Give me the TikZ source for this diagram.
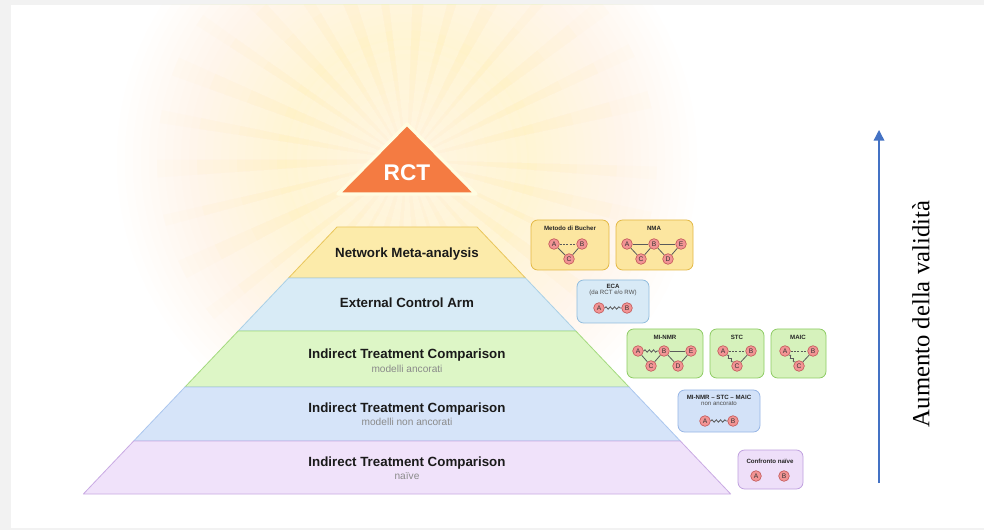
\documentclass[tikz,border=0pt]{standalone}
\usepackage{fontspec}
\setmainfont{Liberation Serif}
\setsansfont{Liberation Sans}
\usetikzlibrary{decorations.pathmorphing,arrows.meta}

\definecolor{frameC}{HTML}{F2F2F2}
\definecolor{glowA}{HTML}{FFF59C}
\definecolor{rayC}{HTML}{FFF28E}
\definecolor{rctC}{HTML}{F47B42}
\definecolor{nmaF}{HTML}{FCEBAA}
\definecolor{nmaB}{HTML}{E9C65B}
\definecolor{ecaF}{HTML}{D8EBF6}
\definecolor{ecaB}{HTML}{A9D0E6}
\definecolor{itaF}{HTML}{DDF6C6}
\definecolor{itaB}{HTML}{A3DA7E}
\definecolor{itnF}{HTML}{D6E4F9}
\definecolor{itnB}{HTML}{ABC6EE}
\definecolor{naiF}{HTML}{F0E2FA}
\definecolor{naiB}{HTML}{C9AAE3}
\definecolor{bucF}{HTML}{FCE6A0}
\definecolor{bucB}{HTML}{E3B844}
\definecolor{ecbF}{HTML}{D8EAF6}
\definecolor{ecbB}{HTML}{90BCDD}
\definecolor{grnF}{HTML}{D6F2BC}
\definecolor{grnB}{HTML}{8DCB63}
\definecolor{nanF}{HTML}{D3E2F8}
\definecolor{nanB}{HTML}{96B5E5}
\definecolor{nvbF}{HTML}{EEDFF9}
\definecolor{nvbB}{HTML}{BFA0DF}
\definecolor{gnodeF}{HTML}{F29494}
\definecolor{gnodeB}{HTML}{C45C5C}
\definecolor{edgeC}{HTML}{5A5A5A}
\definecolor{arrowC}{HTML}{4472C4}
\definecolor{titleC}{HTML}{1A1A1A}
\definecolor{subC}{HTML}{8A8A8A}

\begin{document}
\begin{tikzpicture}[x=0.75pt,y=-0.75pt,
  tier/.style={line width=0.6pt, line join=round},
  ttl/.style={font=\sffamily\bfseries\fontsize{10}{12}\selectfont, text=titleC, inner sep=0pt},
  subttl/.style={font=\sffamily\fontsize{7.6}{9}\selectfont, text=subC, inner sep=0pt},
  mbox/.style={rounded corners=5pt, line width=0.6pt},
  mttl/.style={font=\sffamily\bfseries\fontsize{4.6}{5.5}\selectfont, text=black!85, inner sep=0pt},
  msub/.style={font=\sffamily\fontsize{4.6}{5.5}\selectfont, text=black!70, inner sep=0pt},
  gnode/.style={circle, draw=gnodeB, fill=gnodeF, line width=0.5pt, inner sep=0pt,
    minimum size=8pt, font=\sffamily\fontsize{5}{5}\selectfont, text=black!80},
  gedge/.style={draw=edgeC, line width=0.6pt},
  dashedge/.style={gedge, dash pattern=on 1.5pt off 1pt},
  wavyedge/.style={gedge, decorate, decoration={snake, amplitude=0.9pt, segment length=3.2pt}},
]
\useasboundingbox (0,0) rectangle (984,530);

% page frame
\fill[frameC] (0,0) rectangle (984,530);
\fill[white] (11,5) rectangle (984,528);

% radiant glow behind the apex: stacked translucent discs and rays
\begin{scope}
  \clip (11,5) rectangle (984,528);
  \begin{scope}[shift={(407,160)}]
    \foreach \r in {290,282,...,26}{
      \fill[glowA, fill opacity=0.02] (0,0) circle (\r);
    }
    \foreach \a/\w in {3/1.5,14/2,26/1.2,37/2.2,49/1.5,61/2,72/1.3,84/2,95/1.6,107/2.2,119/1.4,130/2,142/1.5,154/2.2,166/1.3,178/2,
                       190/1.5,202/2.2,214/1.4,226/2,238/1.6,250/2.2,262/1.4,274/2,286/1.5,298/2.2,310/1.3,322/2,334/1.6,346/2}{
      \foreach \r in {90,130,170,210,250}{
        \fill[rayC, fill opacity=0.035] (0,0) -- (\a-\w:\r) -- (\a+\w:\r) -- cycle;
      }
    }
    \foreach \r in {120,110,...,10}{
      \fill[white, fill opacity=0.07] (0,0) circle (\r);
    }
  \end{scope}
\end{scope}

% apex: RCT
\draw[white!70!glowA, line width=2.5pt, line join=round, fill=rctC] (407,124) -- (476,194) -- (338,194) -- cycle;
\node[font=\sffamily\bfseries\fontsize{17}{20}\selectfont, text=white, inner sep=0pt] (rct) at (407,173) {RCT};

% pyramid tiers
\draw[tier, fill=nmaF, draw=nmaB] (337,227) -- (477,227) -- (525.45,278) -- (288.55,278) -- cycle;
\draw[tier, fill=ecaF, draw=ecaB] (288.55,278) -- (525.45,278) -- (575.8,331) -- (238.2,331) -- cycle;
\draw[tier, fill=itaF, draw=itaB] (238.2,331) -- (575.8,331) -- (629,387) -- (185,387) -- cycle;
\draw[tier, fill=itnF, draw=itnB] (185,387) -- (629,387) -- (680.3,441) -- (133.7,441) -- cycle;
\draw[tier, fill=naiF, draw=naiB] (133.7,441) -- (680.3,441) -- (730.65,494) -- (83.35,494) -- cycle;

\node[ttl] (t1) at (407,254) {Network Meta-analysis};
\node[ttl] (t2) at (407,303) {External Control Arm};
\node[ttl] (t3) at (407,355) {Indirect Treatment Comparison};
\node[subttl] (s3) at (407,369) {modelli ancorati};
\node[ttl] (t4) at (407,409) {Indirect Treatment Comparison};
\node[subttl] (s4) at (407,422) {modelli non ancorati};
\node[ttl] (t5) at (407,463) {Indirect Treatment Comparison};
\node[subttl] (s5) at (407,476) {naïve};

% Bucher method
\draw[mbox, fill=bucF, draw=bucB] (531,220) rectangle (609,270);
\node[mttl] (bt) at (570,228) {Metodo di Bucher};
\node[gnode] (bA) at (554,244) {A};
\node[gnode] (bB) at (582,244) {B};
\node[gnode] (bC) at (569,259) {C};
\draw[dashedge] (bA) -- (bB);
\draw[gedge] (bA) -- (bC);
\draw[gedge] (bB) -- (bC);

% NMA
\draw[mbox, fill=bucF, draw=bucB] (616,220) rectangle (693,270);
\node[mttl] (nt) at (654,228) {NMA};
\node[gnode] (nA) at (627,244) {A};
\node[gnode] (nB) at (654,244) {B};
\node[gnode] (nE) at (681,244) {E};
\node[gnode] (nC) at (641,259) {C};
\node[gnode] (nD) at (668,259) {D};
\draw[gedge] (nA) -- (nB);
\draw[gedge] (nB) -- (nE);
\draw[gedge] (nA) -- (nC);
\draw[gedge] (nC) -- (nB);
\draw[gedge] (nB) -- (nD);
\draw[gedge] (nD) -- (nE);

% ECA
\draw[mbox, fill=ecbF, draw=ecbB] (577,280) rectangle (649,323);
\node[mttl] (et) at (613,286) {ECA};
\node[msub] (es) at (613,292.5) {(da RCT e/o RW)};
\node[gnode] (eA) at (599,308) {A};
\node[gnode] (eB) at (627,308) {B};
\draw[wavyedge] (eA) -- (eB);

% MI-NMR
\draw[mbox, fill=grnF, draw=grnB] (627,329) rectangle (703,378);
\node[mttl] (mt) at (665,337) {MI-NMR};
\node[gnode] (mA) at (638,351) {A};
\node[gnode] (mB) at (664,351) {B};
\node[gnode] (mE) at (691,351) {E};
\node[gnode] (mC) at (651,366) {C};
\node[gnode] (mD) at (678,366) {D};
\draw[wavyedge] (mA) -- (mB);
\draw[gedge] (mB) -- (mE);
\draw[gedge] (mA) -- (mC);
\draw[gedge] (mC) -- (mB);
\draw[gedge] (mB) -- (mD);
\draw[gedge] (mD) -- (mE);

% STC
\draw[mbox, fill=grnF, draw=grnB] (710,329) rectangle (764,378);
\node[mttl] (st) at (737,337) {STC};
\node[gnode] (sA) at (723,351) {A};
\node[gnode] (sB) at (751,351) {B};
\node[gnode] (sC) at (737,366) {C};
\draw[dashedge] (sA) -- (sB);
\draw[wavyedge] (sA) -- (sC);
\draw[gedge] (sB) -- (sC);

% MAIC
\draw[mbox, fill=grnF, draw=grnB] (771,329) rectangle (826,378);
\node[mttl] (at) at (798,337) {MAIC};
\node[gnode] (aA) at (785,351) {A};
\node[gnode] (aB) at (813,351) {B};
\node[gnode] (aC) at (799,366) {C};
\draw[dashedge] (aA) -- (aB);
\draw[wavyedge] (aA) -- (aC);
\draw[gedge] (aB) -- (aC);

% unanchored
\draw[mbox, fill=nanF, draw=nanB] (678,390) rectangle (760,432);
\node[mttl] (ut) at (719,397) {MI-NMR -- STC -- MAIC};
\node[msub] (us) at (719,403.5) {non ancorato};
\node[gnode] (uA) at (705,421) {A};
\node[gnode] (uB) at (733,421) {B};
\draw[wavyedge] (uA) -- (uB);

% naive comparison
\draw[mbox, fill=nvbF, draw=nvbB] (738,450) rectangle (803,489);
\node[mttl] (vt) at (770,461) {Confronto naïve};
\node[gnode] (vA) at (756,476) {A};
\node[gnode] (vB) at (784,476) {B};

% validity axis
\coordinate (ax0) at (879,483);
\coordinate (ax1) at (879,130);
\draw[arrowC, line width=1pt, -{Triangle[length=8pt, width=8pt]}] (ax0) -- (ax1);
\node[rotate=90, font=\fontsize{18.5}{22}\selectfont, inner sep=0pt] (val) at (921,314) {Aumento della validità};
\end{tikzpicture}
\end{document}
